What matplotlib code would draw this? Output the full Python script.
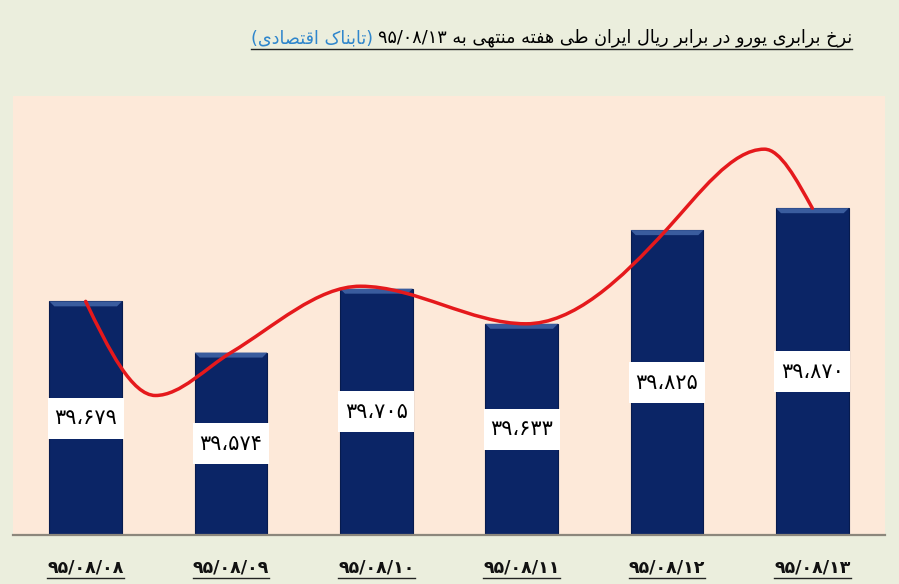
import re

import numpy as np
import matplotlib
matplotlib.use('Agg')
import matplotlib.pyplot as plt
from matplotlib.path import Path
from matplotlib.patches import PathPatch, Polygon
from matplotlib.lines import Line2D

# Data
dates = ['۹۵/۰۸/۰۸', '۹۵/۰۸/۰۹', '۹۵/۰۸/۱۰', '۹۵/۰۸/۱۱', '۹۵/۰۸/۱۲', '۹۵/۰۸/۱۳']
rates = [39679, 39574, 39705, 39633, 39825, 39870]
rate_labels = ['۳۹،۶۷۹', '۳۹،۵۷۴', '۳۹،۷۰۵', '۳۹،۶۳۳', '۳۹،۸۲۵', '۳۹،۸۷۰']

# red trend curve: anchor points (category index, value) and slopes there
trend_x = [0, 0.48, 1, 1.89, 3.03, 4, 4.67, 5]
trend_y = [39679, 39486, 39574, 39710, 39633, 39827, 39991, 39870]
trend_slope = [-627, 0, 179, 0, 0, 328, 0, -537]

title_main = 'نرخ برابری یورو در برابر ریال ایران طی هفته منتهی به ۹۵/۰۸/۱۳'
title_source = '(تابناک اقتصادی)'

Y_MIN, Y_MAX = 39200, 40100

# Arabic presentation forms: isolated, final, initial, medial
FORMS = {
    'ا': ('\uFE8D', '\uFE8E', None, None),
    'ب': ('\uFE8F', '\uFE90', '\uFE91', '\uFE92'),
    'ت': ('\uFE95', '\uFE96', '\uFE97', '\uFE98'),
    'خ': ('\uFEA5', '\uFEA6', '\uFEA7', '\uFEA8'),
    'د': ('\uFEA9', '\uFEAA', None, None),
    'ر': ('\uFEAD', '\uFEAE', None, None),
    'ص': ('\uFEB9', '\uFEBA', '\uFEBB', '\uFEBC'),
    'ط': ('\uFEC1', '\uFEC2', '\uFEC3', '\uFEC4'),
    'ف': ('\uFED1', '\uFED2', '\uFED3', '\uFED4'),
    'ق': ('\uFED5', '\uFED6', '\uFED7', '\uFED8'),
    'ل': ('\uFEDD', '\uFEDE', '\uFEDF', '\uFEE0'),
    'م': ('\uFEE1', '\uFEE2', '\uFEE3', '\uFEE4'),
    'ن': ('\uFEE5', '\uFEE6', '\uFEE7', '\uFEE8'),
    'ه': ('\uFEE9', '\uFEEA', '\uFEEB', '\uFEEC'),
    'و': ('\uFEED', '\uFEEE', None, None),
    'ی': ('\uFBFC', '\uFBFD', '\uFBFE', '\uFBFF'),
    'ک': ('\uFB8E', '\uFB8F', '\uFB90', '\uFB91'),
}
DIGITS = '۰۱۲۳۴۵۶۷۸۹/'


def shape_rtl(text):
    '''
    Join Persian letters and put the string in visual (left to right) order
    '''
    out = []
    for i, ch in enumerate(text):
        if ch not in FORMS:
            out.append(ch)
            continue
        prev = text[i - 1] if i > 0 else ''
        nxt = text[i + 1] if i + 1 < len(text) else ''
        join_prev = prev in FORMS and FORMS[prev][2] is not None
        join_next = FORMS[ch][2] is not None and nxt in FORMS
        iso, fin, ini, med = FORMS[ch]
        if join_prev and join_next:
            out.append(med)
        elif join_prev:
            out.append(fin)
        elif join_next:
            out.append(ini)
        else:
            out.append(iso)
    shaped = ''.join(out)

    runs = re.findall('[' + DIGITS + ']+|[^' + DIGITS + ']+', shaped)
    visual = []
    for run in reversed(runs):
        if run[0] in DIGITS:
            visual.append(run)
        else:
            visual.append(run[::-1].translate(str.maketrans('()', ')(')))
    return ''.join(visual)


def main():
    plt.rcParams['font.family'] = ['DejaVu Sans']

    fig = plt.figure(figsize=(8.99, 5.84), dpi=100)
    fig.patch.set_facecolor('#EBEEDD')

    W, H = 899.0, 584.0
    ax = fig.add_axes([13 / W, (H - 535) / H, 872 / W, 439 / H])
    ax.set_facecolor('#FDE9D9')

    x = np.arange(len(rates))
    bar_w = 0.5

    # Bars with a lighter bevel on top
    ax.bar(x, np.array(rates) - Y_MIN, bottom=Y_MIN, width=bar_w,
           color='#0B2566', edgecolor='#071B4E', linewidth=0.8, zorder=2)
    px_y = (Y_MAX - Y_MIN) / 439.0
    px_x = 6 / 872.0
    for xi, v in zip(x, rates):
        l, r = xi - bar_w / 2, xi + bar_w / 2
        bevel = Polygon([(l, v), (r, v), (r - 5 * px_x, v - 5 * px_y),
                         (l + 5 * px_x, v - 5 * px_y)],
                        closed=True, facecolor='#3A5C9E', edgecolor='none',
                        zorder=3)
        ax.add_patch(bevel)

    # White value boxes in the middle of each bar
    box_h = 41 * px_y
    mids = [(Y_MIN + v) / 2 for v in rates]
    ax.bar(x, box_h, bottom=np.array(mids) - box_h / 2, width=76 * px_x,
           color='white', linewidth=0, zorder=4)
    for xi, m, lab in zip(x, mids, rate_labels):
        ax.text(xi, m, lab, ha='center', va='center', fontsize=15,
                color='black', zorder=5)

    # Red smoothed trend curve (cubic Hermite segments as Bezier curves)
    verts = [(trend_x[0], trend_y[0])]
    codes = [Path.MOVETO]
    for i in range(len(trend_x) - 1):
        dx = trend_x[i + 1] - trend_x[i]
        verts.append((trend_x[i] + dx / 3, trend_y[i] + trend_slope[i] * dx / 3))
        verts.append((trend_x[i + 1] - dx / 3,
                      trend_y[i + 1] - trend_slope[i + 1] * dx / 3))
        verts.append((trend_x[i + 1], trend_y[i + 1]))
        codes += [Path.CURVE4] * 3
    ax.add_patch(PathPatch(Path(verts, codes), facecolor='none',
                           edgecolor='#E5191C', linewidth=2.5,
                           capstyle='round', zorder=6))

    ax.set_xlim(-0.5, len(rates) - 0.5)
    ax.set_ylim(Y_MIN, Y_MAX)
    ax.set_xticks([])
    ax.set_yticks([])
    for side in ['top', 'left', 'right']:
        ax.spines[side].set_visible(False)
    ax.spines['bottom'].set_color('#8C877C')
    ax.spines['bottom'].set_linewidth(1.6)

    # Date labels under the bars
    date_texts = []
    for xi, d in zip(x, dates):
        t = ax.text(xi, -32 / 439.0, d, transform=ax.get_xaxis_transform(),
                    ha='center', va='center', fontsize=12.5, fontweight='bold',
                    color='#111111')
        date_texts.append(t)

    # Title: main part in black, source in blue to its left
    t_main = fig.text(852 / W, 1 - 38 / H, shape_rtl(title_main), ha='right',
                      va='center', fontsize=12.7, color='black')
    fig.canvas.draw()
    renderer = fig.canvas.get_renderer()
    bb = t_main.get_window_extent(renderer)
    t_src = fig.text((bb.x0 - 5) / W, 1 - 38 / H, shape_rtl(title_source),
                     ha='right', va='center', fontsize=12.7, color='#2F86CC')
    bb_src = t_src.get_window_extent(renderer)

    # Underlines
    y_ul = 1 - 49 / H
    fig.add_artist(Line2D([bb_src.x0 / W, bb.x1 / W], [y_ul, y_ul],
                          color='#222222', linewidth=1.0))
    for t in date_texts:
        b = t.get_window_extent(renderer)
        yy = 1 - 578 / H
        fig.add_artist(Line2D([b.x0 / W, b.x1 / W], [yy, yy],
                              color='#222222', linewidth=1.0))

    fig.savefig('out.png', dpi=100, facecolor=fig.get_facecolor())


if __name__ == '__main__':
    main()
